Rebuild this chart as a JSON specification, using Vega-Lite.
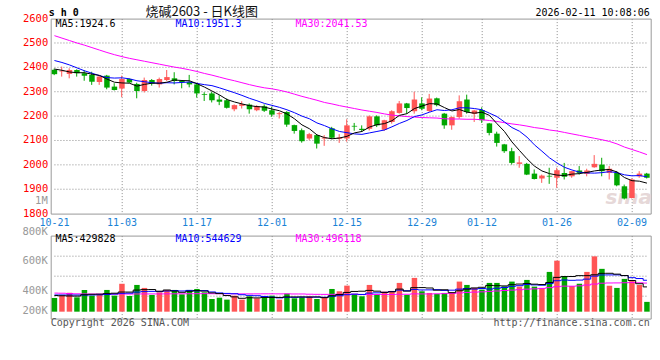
{
  "$schema": "https://vega.github.io/schema/vega-lite/v6.json",
  "background": "white",
  "padding": {"left": 21.7, "top": 4.6, "right": 0, "bottom": 0},
  "spacing": 22,
  "bounds": "flush",
  "config": {
    "view": {"stroke": "#999999", "strokeWidth": 1},
    "axis": {"domain": false, "ticks": false, "gridColor": "#8c8c8c", "gridDash": [1, 2], "gridWidth": 1, "labelFont": "DejaVu Sans Mono", "labelFontSize": 10},
    "text": {"font": "DejaVu Sans Mono", "fontSize": 10}
  },
  "datasets": {
    "k": [
      {"d":"2025-10-21","o":2390,"h":2395,"l":2368,"c":2372,"v":238000,"m5":2393,"m10":2428,"m30":2530,"v5":280000,"v10":290000,"v30":322000},
      {"d":"2025-10-22","o":2383,"h":2403,"l":2362,"c":2386,"v":280000,"m5":2388,"m10":2420,"m30":2520,"v5":276000,"v10":290000,"v30":320000},
      {"d":"2025-10-23","o":2373,"h":2396,"l":2355,"c":2389,"v":328000,"m5":2381,"m10":2410,"m30":2510,"v5":272000,"v10":290000,"v30":315000},
      {"d":"2025-10-24","o":2389,"h":2392,"l":2362,"c":2376,"v":249000,"m5":2378,"m10":2398,"m30":2500,"v5":270000,"v10":289000,"v30":310000},
      {"d":"2025-10-27","o":2376,"h":2389,"l":2345,"c":2366,"v":375000,"m5":2378,"m10":2386,"m30":2491,"v5":294000,"v10":288000,"v30":308000},
      {"d":"2025-10-28","o":2369,"h":2382,"l":2328,"c":2341,"v":278000,"m5":2372,"m10":2376,"m30":2481,"v5":302000,"v10":290000,"v30":306000},
      {"d":"2025-10-29","o":2340,"h":2365,"l":2328,"c":2362,"v":290000,"m5":2367,"m10":2366,"m30":2471,"v5":304000,"v10":292000,"v30":305000},
      {"d":"2025-10-30","o":2366,"h":2369,"l":2310,"c":2317,"v":377000,"m5":2352,"m10":2358,"m30":2461,"v5":314000,"v10":298000,"v30":305000},
      {"d":"2025-10-31","o":2321,"h":2335,"l":2305,"c":2307,"v":278000,"m5":2339,"m10":2356,"m30":2452,"v5":320000,"v10":306000,"v30":305000},
      {"d":"2025-11-03","o":2313,"h":2366,"l":2278,"c":2352,"v":484000,"m5":2336,"m10":2357,"m30":2444,"v5":341000,"v10":318000,"v30":306000},
      {"d":"2025-11-04","o":2352,"h":2355,"l":2335,"c":2338,"v":272000,"m5":2335,"m10":2353,"m30":2437,"v5":340000,"v10":321000,"v30":306000},
      {"d":"2025-11-05","o":2332,"h":2337,"l":2273,"c":2303,"v":464000,"m5":2323,"m10":2345,"m30":2431,"v5":375000,"v10":340000,"v30":307000},
      {"d":"2025-11-06","o":2303,"h":2358,"l":2297,"c":2348,"v":412000,"m5":2330,"m10":2341,"m30":2425,"v5":382000,"v10":348000,"v30":308000},
      {"d":"2025-11-07","o":2348,"h":2352,"l":2325,"c":2334,"v":290000,"m5":2335,"m10":2337,"m30":2419,"v5":384000,"v10":352000,"v30":308000},
      {"d":"2025-11-10","o":2330,"h":2358,"l":2317,"c":2352,"v":336000,"m5":2335,"m10":2335,"m30":2413,"v5":355000,"v10":348000,"v30":308000},
      {"d":"2025-11-11","o":2348,"h":2389,"l":2344,"c":2360,"v":377000,"m5":2339,"m10":2337,"m30":2407,"v5":376000,"v10":358000,"v30":309000},
      {"d":"2025-11-12","o":2355,"h":2380,"l":2330,"c":2344,"v":377000,"m5":2348,"m10":2336,"m30":2401,"v5":358000,"v10":367000,"v30":310000},
      {"d":"2025-11-13","o":2344,"h":2348,"l":2314,"c":2339,"v":301000,"m5":2346,"m10":2338,"m30":2396,"v5":336000,"v10":359000,"v30":310000},
      {"d":"2025-11-14","o":2339,"h":2369,"l":2318,"c":2330,"v":377000,"m5":2345,"m10":2340,"m30":2390,"v5":354000,"v10":369000,"v30":311000},
      {"d":"2025-11-17","o":2330,"h":2335,"l":2276,"c":2293,"v":394000,"m5":2333,"m10":2334,"m30":2383,"v5":365000,"v10":360000,"v30":312000},
      {"d":"2025-11-18","o":2290,"h":2298,"l":2262,"c":2287,"v":336000,"m5":2319,"m10":2329,"m30":2375,"v5":357000,"v10":366000,"v30":313000},
      {"d":"2025-11-19","o":2293,"h":2300,"l":2256,"c":2265,"v":220000,"m5":2303,"m10":2325,"m30":2368,"v5":326000,"v10":342000,"v30":312000},
      {"d":"2025-11-20","o":2268,"h":2286,"l":2245,"c":2259,"v":243000,"m5":2287,"m10":2316,"m30":2360,"v5":314000,"v10":325000,"v30":311000},
      {"d":"2025-11-21","o":2265,"h":2272,"l":2231,"c":2234,"v":209000,"m5":2268,"m10":2306,"m30":2352,"v5":280000,"v10":317000,"v30":310000},
      {"d":"2025-11-24","o":2228,"h":2248,"l":2220,"c":2245,"v":278000,"m5":2258,"m10":2296,"m30":2345,"v5":257000,"v10":311000,"v30":310000},
      {"d":"2025-11-25","o":2242,"h":2261,"l":2231,"c":2249,"v":209000,"m5":2250,"m10":2285,"m30":2337,"v5":232000,"v10":294000,"v30":309000},
      {"d":"2025-11-26","o":2247,"h":2252,"l":2210,"c":2228,"v":267000,"m5":2243,"m10":2273,"m30":2329,"v5":241000,"v10":283000,"v30":309000},
      {"d":"2025-11-27","o":2224,"h":2245,"l":2220,"c":2241,"v":232000,"m5":2239,"m10":2263,"m30":2322,"v5":239000,"v10":277000,"v30":309000},
      {"d":"2025-11-28","o":2240,"h":2248,"l":2217,"c":2222,"v":249000,"m5":2237,"m10":2252,"m30":2316,"v5":247000,"v10":264000,"v30":310000},
      {"d":"2025-12-01","o":2224,"h":2238,"l":2197,"c":2206,"v":278000,"m5":2229,"m10":2244,"m30":2312,"v5":247000,"v10":252000,"v30":310000},
      {"d":"2025-12-02","o":2208,"h":2217,"l":2190,"c":2212,"v":209000,"m5":2222,"m10":2236,"m30":2306,"v5":247000,"v10":239000,"v30":309000},
      {"d":"2025-12-03","o":2217,"h":2220,"l":2156,"c":2165,"v":313000,"m5":2209,"m10":2226,"m30":2299,"v5":256000,"v10":249000,"v30":310000},
      {"d":"2025-12-04","o":2163,"h":2165,"l":2128,"c":2139,"v":232000,"m5":2189,"m10":2214,"m30":2290,"v5":256000,"v10":248000,"v30":307000},
      {"d":"2025-12-05","o":2142,"h":2149,"l":2091,"c":2097,"v":249000,"m5":2164,"m10":2200,"m30":2281,"v5":256000,"v10":252000,"v30":307000},
      {"d":"2025-12-08","o":2108,"h":2131,"l":2101,"c":2126,"v":267000,"m5":2148,"m10":2189,"m30":2273,"v5":254000,"v10":251000,"v30":303000},
      {"d":"2025-12-09","o":2122,"h":2124,"l":2067,"c":2087,"v":220000,"m5":2123,"m10":2172,"m30":2265,"v5":256000,"v10":252000,"v30":301000},
      {"d":"2025-12-10","o":2108,"h":2122,"l":2078,"c":2112,"v":249000,"m5":2112,"m10":2161,"m30":2256,"v5":243000,"v10":250000,"v30":300000},
      {"d":"2025-12-11","o":2150,"h":2156,"l":2105,"c":2111,"v":394000,"m5":2107,"m10":2148,"m30":2250,"v5":276000,"v10":266000,"v30":301000},
      {"d":"2025-12-12","o":2107,"h":2126,"l":2090,"c":2112,"v":354000,"m5":2110,"m10":2137,"m30":2243,"v5":297000,"v10":277000,"v30":303000},
      {"d":"2025-12-15","o":2108,"h":2187,"l":2095,"c":2162,"v":452000,"m5":2117,"m10":2132,"m30":2237,"v5":334000,"v10":294000,"v30":302000},
      {"d":"2025-12-16","o":2160,"h":2172,"l":2140,"c":2157,"v":308000,"m5":2131,"m10":2127,"m30":2231,"v5":351000,"v10":304000,"v30":303000},
      {"d":"2025-12-17","o":2148,"h":2162,"l":2135,"c":2143,"v":267000,"m5":2137,"m10":2125,"m30":2225,"v5":355000,"v10":299000,"v30":297000},
      {"d":"2025-12-18","o":2148,"h":2203,"l":2141,"c":2199,"v":464000,"m5":2155,"m10":2131,"m30":2220,"v5":369000,"v10":322000,"v30":298000},
      {"d":"2025-12-19","o":2199,"h":2203,"l":2155,"c":2162,"v":290000,"m5":2165,"m10":2137,"m30":2215,"v5":356000,"v10":327000,"v30":298000},
      {"d":"2025-12-22","o":2144,"h":2185,"l":2139,"c":2183,"v":348000,"m5":2169,"m10":2143,"m30":2209,"v5":335000,"v10":335000,"v30":299000},
      {"d":"2025-12-23","o":2176,"h":2224,"l":2169,"c":2220,"v":360000,"m5":2181,"m10":2156,"m30":2204,"v5":346000,"v10":349000,"v30":298000},
      {"d":"2025-12-24","o":2213,"h":2262,"l":2210,"c":2252,"v":499000,"m5":2203,"m10":2170,"m30":2201,"v5":392000,"v10":374000,"v30":302000},
      {"d":"2025-12-25","o":2252,"h":2254,"l":2210,"c":2233,"v":290000,"m5":2210,"m10":2182,"m30":2198,"v5":357000,"v10":363000,"v30":302000},
      {"d":"2025-12-26","o":2220,"h":2300,"l":2210,"c":2268,"v":586000,"m5":2231,"m10":2198,"m30":2196,"v5":417000,"v10":386000,"v30":309000},
      {"d":"2025-12-29","o":2252,"h":2277,"l":2224,"c":2230,"v":354000,"m5":2241,"m10":2205,"m30":2194,"v5":418000,"v10":377000,"v30":308000},
      {"d":"2025-12-30","o":2221,"h":2291,"l":2217,"c":2272,"v":325000,"m5":2251,"m10":2216,"m30":2193,"v5":411000,"v10":378000,"v30":307000},
      {"d":"2025-12-31","o":2273,"h":2276,"l":2240,"c":2245,"v":308000,"m5":2250,"m10":2226,"m30":2192,"v5":373000,"v10":382000,"v30":310000},
      {"d":"2026-01-05","o":2210,"h":2213,"l":2148,"c":2162,"v":325000,"m5":2235,"m10":2223,"m30":2189,"v5":380000,"v10":369000,"v30":313000},
      {"d":"2026-01-06","o":2162,"h":2199,"l":2144,"c":2196,"v":336000,"m5":2221,"m10":2226,"m30":2188,"v5":330000,"v10":373000,"v30":317000},
      {"d":"2026-01-07","o":2196,"h":2285,"l":2189,"c":2261,"v":522000,"m5":2227,"m10":2234,"m30":2188,"v5":363000,"v10":391000,"v30":325000},
      {"d":"2026-01-08","o":2268,"h":2288,"l":2210,"c":2217,"v":464000,"m5":2216,"m10":2234,"m30":2187,"v5":391000,"v10":401000,"v30":334000},
      {"d":"2026-01-09","o":2209,"h":2226,"l":2176,"c":2223,"v":412000,"m5":2212,"m10":2231,"m30":2187,"v5":412000,"v10":392000,"v30":339000},
      {"d":"2026-01-12","o":2225,"h":2236,"l":2172,"c":2183,"v":383000,"m5":2216,"m10":2226,"m30":2185,"v5":423000,"v10":402000,"v30":344000},
      {"d":"2026-01-13","o":2170,"h":2172,"l":2121,"c":2131,"v":499000,"m5":2203,"m10":2212,"m30":2182,"v5":456000,"v10":393000,"v30":352000},
      {"d":"2026-01-14","o":2128,"h":2136,"l":2075,"c":2090,"v":499000,"m5":2169,"m10":2198,"m30":2178,"v5":451000,"v10":407000,"v30":359000},
      {"d":"2026-01-15","o":2084,"h":2086,"l":2049,"c":2056,"v":440000,"m5":2137,"m10":2176,"m30":2173,"v5":447000,"v10":419000,"v30":367000},
      {"d":"2026-01-16","o":2056,"h":2070,"l":2001,"c":2008,"v":522000,"m5":2094,"m10":2153,"m30":2168,"v5":469000,"v10":440000,"v30":374000},
      {"d":"2026-01-19","o":2004,"h":2036,"l":1988,"c":2010,"v":435000,"m5":2059,"m10":2138,"m30":2164,"v5":479000,"v10":451000,"v30":381000},
      {"d":"2026-01-20","o":2004,"h":2008,"l":1958,"c":1960,"v":551000,"m5":2025,"m10":2114,"m30":2159,"v5":489000,"v10":473000,"v30":391000},
      {"d":"2026-01-21","o":1964,"h":1981,"l":1940,"c":1942,"v":435000,"m5":1995,"m10":2082,"m30":2153,"v5":477000,"v10":464000,"v30":396000},
      {"d":"2026-01-22","o":1944,"h":1960,"l":1926,"c":1956,"v":412000,"m5":1975,"m10":2056,"m30":2149,"v5":471000,"v10":459000,"v30":403000},
      {"d":"2026-01-23","o":1955,"h":1988,"l":1922,"c":1952,"v":690000,"m5":1964,"m10":2029,"m30":2143,"v5":505000,"v10":487000,"v30":417000},
      {"d":"2026-01-26","o":1947,"h":1988,"l":1906,"c":1978,"v":885000,"m5":1958,"m10":2008,"m30":2139,"v5":595000,"v10":537000,"v30":434000},
      {"d":"2026-01-27","o":1967,"h":2008,"l":1940,"c":1951,"v":620000,"m5":1956,"m10":1990,"m30":2133,"v5":608000,"v10":549000,"v30":443000},
      {"d":"2026-01-28","o":1953,"h":1974,"l":1947,"c":1974,"v":445000,"m5":1962,"m10":1979,"m30":2127,"v5":610000,"v10":544000,"v30":442000},
      {"d":"2026-01-29","o":1977,"h":1995,"l":1960,"c":1967,"v":485000,"m5":1964,"m10":1970,"m30":2121,"v5":625000,"v10":548000,"v30":448000},
      {"d":"2026-01-30","o":1963,"h":1984,"l":1953,"c":1977,"v":690000,"m5":1969,"m10":1967,"m30":2115,"v5":625000,"v10":565000,"v30":462000},
      {"d":"2026-02-02","o":1990,"h":2040,"l":1988,"c":2004,"v":960000,"m5":1975,"m10":1966,"m30":2109,"v5":640000,"v10":617000,"v30":479000},
      {"d":"2026-02-03","o":2001,"h":2029,"l":1953,"c":1974,"v":743000,"m5":1979,"m10":1968,"m30":2103,"v5":665000,"v10":637000,"v30":494000},
      {"d":"2026-02-04","o":1967,"h":1995,"l":1940,"c":1984,"v":450000,"m5":1981,"m10":1972,"m30":2096,"v5":666000,"v10":638000,"v30":498000},
      {"d":"2026-02-05","o":1967,"h":1974,"l":1912,"c":1916,"v":412000,"m5":1971,"m10":1968,"m30":2086,"v5":651000,"v10":638000,"v30":499000},
      {"d":"2026-02-06","o":1912,"h":1919,"l":1858,"c":1862,"v":569000,"m5":1948,"m10":1959,"m30":2073,"v5":627000,"v10":626000,"v30":502000},
      {"d":"2026-02-09","o":1864,"h":1944,"l":1862,"c":1940,"v":530000,"m5":1935,"m10":1955,"m30":2063,"v5":541000,"v10":590000,"v30":505000},
      {"d":"2026-02-10","o":1953,"h":1974,"l":1947,"c":1964,"v":464000,"m5":1933,"m10":1956,"m30":2053,"v5":485000,"v10":575000,"v30":501000},
      {"d":"2026-02-11","o":1964,"h":1967,"l":1944,"c":1947,"v":170000,"m5":1925,"m10":1951,"m30":2042,"v5":430000,"v10":545000,"v30":496000}
    ],
    "pl": [
      {"d":"2025-10-21","s":"MA5","t":"MA5:1924.6"},
      {"d":"2025-11-12","s":"MA10","t":"MA10:1951.3"},
      {"d":"2025-12-04","s":"MA30","t":"MA30:2041.53"}
    ],
    "vl": [
      {"d":"2025-10-21","s":"MA5","t":"MA5:429828"},
      {"d":"2025-11-12","s":"MA10","t":"MA10:544629"},
      {"d":"2025-12-04","s":"MA30","t":"MA30:496118"}
    ],
    "vlab": [
      {"d":"2025-10-21","y":1374000,"t":"800K"},
      {"d":"2025-10-21","y":867000,"t":"600K"},
      {"d":"2025-10-21","y":347000,"t":"400K"},
      {"d":"2025-10-21","y":0,"t":"200K"}
    ],
    "pg": [{"g":1900},{"g":2000},{"g":2100},{"g":2200},{"g":2300},{"g":2400},{"g":2500}],
    "vg": [{"g":269000},{"g":616000},{"g":963000}]
  },
  "vconcat": [
    {
      "width": 600,
      "height": 195,
      "data": {"name": "k"},
      "encoding": {
        "x": {
          "field": "d", "type": "ordinal",
          "scale": {"type": "band", "paddingInner": 0.27, "paddingOuter": 0.135},
          "axis": {
            "values": ["2025-10-21","2025-11-03","2025-11-17","2025-12-01","2025-12-15","2025-12-29","2026-01-12","2026-01-26","2026-02-09"],
            "labelExpr": "substring(datum.value, 5)",
            "labelAngle": 0, "labelColor": "#1a82d6", "labelFontSize": 10,
            "labelBaseline": "alphabetic", "labelPadding": 12,
            "labelOverlap": false, "labelBound": false, "labelFlush": false,
            "bandPosition": 0.5, "grid": true,
            "gridOpacity": {"condition": {"test": "datum.value == '2025-10-21'", "value": 0}, "value": 1},
            "title": null
          }
        }
      },
      "layer": [
        {
          "data": {"name": "pg"},
          "mark": {"type": "rule", "color": "#8c8c8c", "strokeWidth": 1, "strokeDash": [1, 2]},
          "encoding": {
            "x": {"datum": "2025-10-21", "type": "ordinal"},
            "x2": {"datum": "2026-02-11"},
            "y": {
              "field": "g", "type": "quantitative",
              "scale": {"domain": [1800, 2600], "nice": false, "zero": false},
              "axis": {
                "values": [1800, 1900, 2000, 2100, 2200, 2300, 2400, 2500, 2600],
                "tickCount": 20,
                "format": "d",
                "labelColor": "#ff0000",
                "labelFontSize": 10.5, "labelPadding": 3, "labelBaseline": "alphabetic", "labelOffset": 2.5,
                "labelOverlap": false, "labelFlush": false,
                "grid": false,
                "title": null
              }
            }
          }
        },
        {
          "data": {"values": [{"d": "2026-02-11", "t": "sina"}]},
          "mark": {"type": "text", "align": "right", "baseline": "alphabetic", "dx": 5, "dy": -10, "fontSize": 20, "fontStyle": "italic", "fontWeight": "bold", "font": "DejaVu Sans", "color": "#e6d8d8"},
          "encoding": {"y": {"datum": 1800, "type": "quantitative", "axis": {"title": null}}, "text": {"field": "t"}}
        },
        {
          "mark": {"type": "rule", "strokeWidth": 1, "xOffset": -0.25},
          "encoding": {
            "y": {"field": "l", "type": "quantitative", "axis": {"title": null}},
            "y2": {"field": "h"},
            "color": {"condition": {"test": "datum.c >= datum.o", "value": "#ff5555"}, "value": "#00a600"}
          }
        },
        {
          "mark": {"type": "bar"},
          "encoding": {
            "y": {"field": "o", "type": "quantitative", "axis": {"title": null}},
            "y2": {"field": "c"},
            "color": {"condition": {"test": "datum.c >= datum.o", "value": "#ff5555"}, "value": "#00a600"}
          }
        },
        {
          "mark": {"type": "line", "color": "#ff00ff", "strokeWidth": 1},
          "encoding": {"y": {"field": "m30", "type": "quantitative", "axis": {"title": null}}}
        },
        {
          "mark": {"type": "line", "color": "#0000ff", "strokeWidth": 1},
          "encoding": {"y": {"field": "m10", "type": "quantitative", "axis": {"title": null}}}
        },
        {
          "mark": {"type": "line", "color": "#000000", "strokeWidth": 1},
          "encoding": {"y": {"field": "m5", "type": "quantitative", "axis": {"title": null}}}
        },
        {
          "data": {"name": "pl"},
          "mark": {"type": "text", "align": "left", "baseline": "alphabetic", "dx": 1, "dy": 8.5, "fontSize": 10},
          "encoding": {
            "y": {"datum": 2600, "type": "quantitative", "axis": {"title": null}},
            "text": {"field": "t"},
            "color": {"field": "s", "type": "nominal", "scale": {"domain": ["MA5", "MA10", "MA30"], "range": ["#000000", "#0000ff", "#ff00ff"]}, "legend": null}
          }
        },
        {
          "data": {"values": [{"d": "2025-10-21", "t": "1M"}]},
          "mark": {"type": "text", "align": "right", "baseline": "alphabetic", "dx": -6.75, "dy": 2.5, "fontSize": 10.5, "color": "#999999"},
          "encoding": {"y": {"datum": 1850, "type": "quantitative", "axis": {"title": null}}, "text": {"field": "t"}}
        },
        {
          "data": {"values": [{"d": "2025-10-21", "t": "s h 0"}]},
          "mark": {"type": "text", "align": "left", "baseline": "alphabetic", "dx": -5.75, "dy": -3, "fontSize": 10, "fontWeight": "bold", "color": "#000000"},
          "encoding": {"y": {"datum": 2600, "type": "quantitative", "axis": {"title": null}}, "text": {"field": "t"}}
        },
        {
          "data": {"values": [{"d": "2025-11-18", "t": "烧碱2603 - 日K线图"}]},
          "mark": {"type": "text", "align": "center", "baseline": "alphabetic", "dx": -2.75, "dy": -3, "fontSize": 13, "font": "Noto Sans CJK SC", "color": "#111111"},
          "encoding": {"y": {"datum": 2600, "type": "quantitative", "axis": {"title": null}}, "text": {"field": "t"}}
        },
        {
          "data": {"values": [{"d": "2026-02-11", "t": "2026-02-11 10:08:06"}]},
          "mark": {"type": "text", "align": "right", "baseline": "alphabetic", "dx": 2.75, "dy": -3, "fontSize": 10, "color": "#000000"},
          "encoding": {"y": {"datum": 2600, "type": "quantitative", "axis": {"title": null}}, "text": {"field": "t"}}
        }
      ]
    },
    {
      "width": 600,
      "height": 83,
      "data": {"name": "k"},
      "encoding": {
        "x": {
          "field": "d", "type": "ordinal",
          "scale": {"type": "band", "paddingInner": 0.27, "paddingOuter": 0.135},
          "axis": {
            "values": ["2025-10-21","2025-11-03","2025-11-17","2025-12-01","2025-12-15","2025-12-29","2026-01-12","2026-01-26","2026-02-09"],
            "labels": false, "bandPosition": 0.5, "grid": true,
            "gridOpacity": {"condition": {"test": "datum.value == '2025-10-21'", "value": 0}, "value": 1},
            "title": null
          }
        }
      },
      "layer": [
        {
          "data": {"name": "vg"},
          "mark": {"type": "rule", "color": "#8c8c8c", "strokeWidth": 1, "strokeDash": [1, 2]},
          "encoding": {
            "x": {"datum": "2025-10-21", "type": "ordinal"},
            "x2": {"datum": "2026-02-11"},
            "y": {
              "field": "g", "type": "quantitative",
              "scale": {"domain": [-120000, 1320000], "nice": false, "zero": false},
              "axis": {"labels": false, "grid": false, "title": null}
            }
          }
        },
        {
          "mark": {"type": "bar"},
          "encoding": {
            "y": {"field": "v", "type": "quantitative", "axis": {"title": null}},
            "y2": {"datum": 0},
            "color": {"condition": {"test": "datum.c >= datum.o", "value": "#ff5555"}, "value": "#00a600"}
          }
        },
        {
          "mark": {"type": "line", "color": "#ff00ff", "strokeWidth": 1, "interpolate": "step"},
          "encoding": {"y": {"field": "v30", "type": "quantitative", "axis": {"title": null}}}
        },
        {
          "mark": {"type": "line", "color": "#0000ff", "strokeWidth": 1, "interpolate": "step"},
          "encoding": {"y": {"field": "v10", "type": "quantitative", "axis": {"title": null}}}
        },
        {
          "mark": {"type": "line", "color": "#000000", "strokeWidth": 1, "interpolate": "step"},
          "encoding": {"y": {"field": "v5", "type": "quantitative", "axis": {"title": null}}}
        },
        {
          "data": {"name": "vl"},
          "mark": {"type": "text", "align": "left", "baseline": "alphabetic", "dx": 1, "dy": 6.5, "fontSize": 10},
          "encoding": {
            "y": {"datum": 1320000, "type": "quantitative", "axis": {"title": null}},
            "text": {"field": "t"},
            "color": {"field": "s", "type": "nominal", "scale": {"domain": ["MA5", "MA10", "MA30"], "range": ["#000000", "#0000ff", "#ff00ff"]}, "legend": null}
          }
        },
        {
          "data": {"name": "vlab"},
          "mark": {"type": "text", "align": "right", "baseline": "alphabetic", "dx": -6.75, "dy": 2.5, "fontSize": 10.5, "color": "#999999"},
          "encoding": {"y": {"field": "y", "type": "quantitative", "axis": {"title": null}}, "text": {"field": "t"}}
        },
        {
          "data": {"values": [{"d": "2025-10-21", "t": "Copyright 2026 SINA.COM"}]},
          "mark": {"type": "text", "align": "left", "baseline": "alphabetic", "dx": -3.75, "dy": 7.7, "fontSize": 10, "color": "#555555"},
          "encoding": {"y": {"datum": -120000, "type": "quantitative", "axis": {"title": null}}, "text": {"field": "t"}}
        },
        {
          "data": {"values": [{"d": "2026-02-11", "t": "http://finance.sina.com.cn"}]},
          "mark": {"type": "text", "align": "right", "baseline": "alphabetic", "dx": 2.75, "dy": 7.7, "fontSize": 10, "color": "#555555"},
          "encoding": {"y": {"datum": -120000, "type": "quantitative", "axis": {"title": null}}, "text": {"field": "t"}}
        }
      ]
    }
  ]
}
